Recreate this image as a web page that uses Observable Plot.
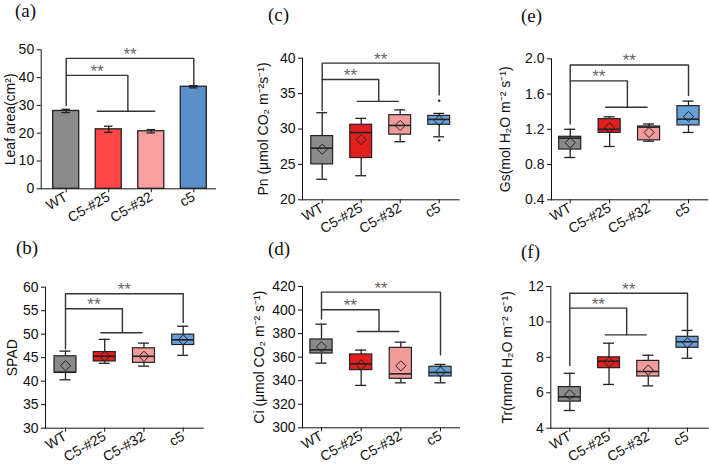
<!DOCTYPE html>
<html>
<head>
<meta charset="utf-8">
<script src="https://cdn.jsdelivr.net/npm/d3@7"></script>
<script src="https://cdn.jsdelivr.net/npm/@observablehq/plot@0.6"></script>
<style>
  body { margin: 0; background: #fff; }
  #chart { position: relative; width: 709px; height: 469px; overflow: hidden; background: #fff; }
  .panel { position: absolute; }
  .panel svg { overflow: visible; }
  .tag { position: absolute; font-family: "Liberation Serif", "Times New Roman", serif; font-size: 19px; color: #111; line-height: 1; }
</style>
</head>
<body>
<div id="chart"></div>
<script>
// Lines compared in every panel
const categories = ["WT", "C5-#25", "C5-#32", "c5"];

// (a) leaf area (cm²): mean and error
const leafArea = [28.0, 21.4, 20.7, 36.7];
const leafAreaErr = [0.6, 1.1, 0.6, 0.4];

// Box summaries per line: [lower whisker, Q1, median, Q3, upper whisker]
const spadBox = [[40.3, 41.8, 41.9, 45.3, 46.4], [43.8, 44.2, 45.3, 46.2, 48.9], [43.2, 43.9, 45.3, 47.0, 48.1], [45.5, 47.7, 48.8, 49.9, 51.7]];
const spadMean = [43.3, 45.3, 45.3, 48.8];

const pnBox = [[22.9, 25.0, 27.3, 29.0, 32.3], [23.4, 25.9, 29.5, 30.6, 31.5], [28.2, 29.2, 30.5, 31.95, 32.7], [28.9, 30.6, 31.35, 31.85, 32.2]];
const pnMean = [27.15, 28.5, 30.5, 31.2];
const pnOutliers = [[3, 34.0], [3, 28.4]];

const ciBox = [[354.9, 363.1, 366.2, 375.0, 388.0], [336.0, 349.0, 354.3, 362.3, 366.0], [338.2, 341.6, 345.8, 367.9, 372.7], [338.2, 343.6, 347.0, 351.8, 353.8]];
const ciMean = [368.8, 353.5, 352.6, 347.5];

const gsBox = [[0.88, 0.97, 1.10, 1.115, 1.20], [1.005, 1.16, 1.20, 1.315, 1.342], [1.065, 1.075, 1.225, 1.232, 1.26], [1.164, 1.244, 1.315, 1.463, 1.52]];
const gsMean = [1.047, 1.217, 1.164, 1.345];

const trBox = [[5.0, 5.5, 5.77, 6.32, 7.1], [6.47, 7.39, 7.78, 8.0, 8.8], [6.39, 6.92, 7.2, 7.8, 8.12], [7.95, 8.54, 8.88, 9.16, 9.52]];
const trMean = [5.9, 7.73, 7.28, 8.82];

// Significance brackets: [outer top, WT leg end, c5 leg end, inner top, inner leg end]
const leafAreaSig = [46.9, 30.0, 37.3, 40.8, 27.9];
const spadSig = [58.6, 46.9, 52.5, 55.4, 50.3];
const pnSig = [39.3, 32.6, 34.8, 37.0, 33.9];
const ciSig = [415.2, 392.5, 362.0, 400.2, 381.8];
const gsSig = [1.93, 1.26, 1.584, 1.75, 1.45];
const trSig = [11.62, 7.54, 9.37, 10.78, 9.27];
// x (category index) of the inner bracket drop and of the bar under it
const innerDropX = 1.45;
const leafAreaSpanX = [0.73, 2.08];
const boxSpanX = [0.9, 1.95];

const barColors = ["#8a8a8a", "#ff4646", "#f6a0a0", "#5b8fcb"];
const boxColors = ["#8a8a8a", "#e31e1e", "#f29b9b", "#6a9fd8"];
const ink = "#222";

const BOX_HALF = 0.28, CAP_HALF = 0.14, BAR_HALF = 0.306, ERR_CAP = 0.1;

function boxMarks(box, mean, outliers = []) {
  const rows = categories.map((c, i) => ({
    i, lo: box[i][0], q1: box[i][1], med: box[i][2], q3: box[i][3], hi: box[i][4], mean: mean[i], fill: boxColors[i]
  }));
  const outs = outliers.map(([i, v]) => ({i, v}));
  return [
    Plot.ruleX(rows, {x: "i", y1: "lo", y2: "q1", stroke: ink, strokeWidth: 1.3}),
    Plot.ruleX(rows, {x: "i", y1: "q3", y2: "hi", stroke: ink, strokeWidth: 1.3}),
    Plot.ruleY(rows, {y: "lo", x1: d => d.i - CAP_HALF, x2: d => d.i + CAP_HALF, stroke: ink, strokeWidth: 1.3}),
    Plot.ruleY(rows, {y: "hi", x1: d => d.i - CAP_HALF, x2: d => d.i + CAP_HALF, stroke: ink, strokeWidth: 1.3}),
    Plot.rect(rows, {x1: d => d.i - BOX_HALF, x2: d => d.i + BOX_HALF, y1: "q1", y2: "q3", fill: "fill", stroke: ink, strokeWidth: 1.2}),
    Plot.ruleY(rows, {y: "med", x1: d => d.i - BOX_HALF, x2: d => d.i + BOX_HALF, stroke: ink, strokeWidth: 1.6}),
    Plot.dot(rows, {x: "i", y: "mean", symbol: "diamond2", r: 4.6, stroke: ink, strokeWidth: 1, fill: "none"}),
    Plot.dot(outs, {x: "i", y: "v", r: 1.2, fill: ink, stroke: null})
  ];
}

function barMarks(values, errs) {
  const rows = categories.map((c, i) => ({i, v: values[i], e: errs[i], fill: barColors[i]}));
  return [
    Plot.rectY(rows, {x1: d => d.i - BAR_HALF, x2: d => d.i + BAR_HALF, y: "v", fill: "fill", stroke: ink, strokeWidth: 1.3}),
    Plot.ruleX(rows, {x: "i", y1: d => d.v - d.e, y2: d => d.v + d.e, stroke: ink, strokeWidth: 1.3}),
    Plot.ruleY(rows, {y: d => d.v - d.e, x1: d => d.i - ERR_CAP, x2: d => d.i + ERR_CAP, stroke: ink, strokeWidth: 1.3}),
    Plot.ruleY(rows, {y: d => d.v + d.e, x1: d => d.i - ERR_CAP, x2: d => d.i + ERR_CAP, stroke: ink, strokeWidth: 1.3})
  ];
}

function sigMarks(sig, spanX) {
  const [top, wtLeg, c5Leg, inner, innerLeg] = sig;
  const pts = [
    {g: 0, x: 0, y: wtLeg}, {g: 0, x: 0, y: top}, {g: 0, x: 3, y: top}, {g: 0, x: 3, y: c5Leg},
    {g: 1, x: 0, y: inner}, {g: 1, x: innerDropX, y: inner}, {g: 1, x: innerDropX, y: innerLeg},
    {g: 2, x: spanX[0], y: innerLeg}, {g: 2, x: spanX[1], y: innerLeg}
  ];
  const stars = [{x: 1.5, y: top}, {x: innerDropX / 2, y: inner}];
  return [
    Plot.line(pts, {x: "x", y: "y", z: "g", stroke: "#333", strokeWidth: 1.4, curve: "linear"}),
    Plot.text(stars, {x: "x", y: "y", text: () => "**", dy: -4, fill: "#666", fontSize: 17, lineAnchor: "middle"})
  ];
}

function panel(host, cfg) {
  const {left, top, width, height, axisL, axisR, firstX, lastX, yTopPx, yBotPx, yDomain, yTicks, yFormat, yLabel, labelGap, marks} = cfg;
  const step = (lastX - firstX) / 3;
  const chart = Plot.plot({
    width, height,
    marginLeft: axisL - left,
    marginRight: left + width - axisR,
    marginTop: yTopPx - top,
    marginBottom: top + height - yBotPx,
    style: {fontFamily: "'Liberation Sans', Arial, sans-serif", fontSize: "14px", color: "#111", background: "transparent", overflow: "visible"},
    color: {type: "identity"},
    x: {domain: [(axisL - firstX) / step, (axisR - firstX) / step], ticks: [0, 1, 2, 3], tickFormat: i => categories[i],
        tickRotate: -30, tickSize: 4, tickPadding: 3, line: true, label: null},
    y: {domain: yDomain, ticks: yTicks, tickFormat: yFormat, tickSize: 4, tickPadding: 3, line: true, label: null},
    marks: [
      ...marks,
      Plot.text([yLabel], {text: d => d, frameAnchor: "left", textAnchor: "middle", lineAnchor: "middle", rotate: -90, dx: -labelGap, fontSize: 14, fill: "#111"})
    ]
  });
  const wrap = document.createElement("div");
  wrap.className = "panel";
  wrap.style.left = left + "px";
  wrap.style.top = top + "px";
  wrap.appendChild(chart);
  host.appendChild(wrap);
}

function tag(host, text, x, y) {
  const el = document.createElement("div");
  el.className = "tag";
  el.textContent = text;
  el.style.left = x + "px";
  el.style.top = y + "px";
  host.appendChild(el);
}

const host = document.getElementById("chart");
const row1 = {top: 30, height: 205}, row2 = {top: 262, height: 207};

panel(host, {left: 0, width: 236, ...row1, axisL: 40.7, axisR: 215, firstX: 65.7, lastX: 193.3, yTopPx: 49.3, yBotPx: 188.3,
  yDomain: [0, 50], yTicks: [0, 10, 20, 30, 40, 50], yLabel: "Leaf area(cm²)", labelGap: 31,
  marks: [...barMarks(leafArea, leafAreaErr), ...sigMarks(leafAreaSig, leafAreaSpanX)]});

panel(host, {left: 236, width: 236, ...row1, axisL: 302, axisR: 458.7, firstX: 321.7, lastX: 438.7, yTopPx: 57.7, yBotPx: 199.3,
  yDomain: [20, 40], yTicks: [20, 25, 30, 35, 40], yLabel: "Pn (μmol CO₂ m⁻²s⁻¹)", labelGap: 39,
  marks: [...boxMarks(pnBox, pnMean, pnOutliers), ...sigMarks(pnSig, boxSpanX)]});

panel(host, {left: 472, width: 237, ...row1, axisL: 551, axisR: 707, firstX: 569.7, lastX: 688, yTopPx: 58.3, yBotPx: 199.3,
  yDomain: [0.4, 2.0], yTicks: [0.4, 0.8, 1.2, 1.6, 2.0], yFormat: d3.format(".1f"), yLabel: "Gs(mol H₂O m⁻² s⁻¹)", labelGap: 46,
  marks: [...boxMarks(gsBox, gsMean), ...sigMarks(gsSig, boxSpanX)]});

panel(host, {left: 0, width: 236, ...row2, axisL: 45, axisR: 202.7, firstX: 65, lastX: 182.7, yTopPx: 286.7, yBotPx: 427.7,
  yDomain: [30, 60], yTicks: [30, 35, 40, 45, 50, 55, 60], yLabel: "SPAD", labelGap: 33,
  marks: [...boxMarks(spadBox, spadMean), ...sigMarks(spadSig, boxSpanX)]});

panel(host, {left: 236, width: 236, ...row2, axisL: 302, axisR: 459, firstX: 321, lastX: 440, yTopPx: 286, yBotPx: 427.3,
  yDomain: [300, 420], yTicks: [300, 320, 340, 360, 380, 400, 420], yLabel: "Ci (μmol CO₂ m⁻² s⁻¹)", labelGap: 43,
  marks: [...boxMarks(ciBox, ciMean), ...sigMarks(ciSig, boxSpanX)]});

panel(host, {left: 472, width: 237, ...row2, axisL: 550.3, axisR: 707.7, firstX: 569.3, lastX: 687, yTopPx: 286, yBotPx: 427.7,
  yDomain: [4, 12], yTicks: [4, 6, 8, 10, 12], yLabel: "Tr(mmol H₂O m⁻² s⁻¹)", labelGap: 43,
  marks: [...boxMarks(trBox, trMean), ...sigMarks(trSig, boxSpanX)]});

tag(host, "(a)", 15, 1);
tag(host, "(c)", 268, 5);
tag(host, "(e)", 521, 6);
tag(host, "(b)", 16, 238);
tag(host, "(d)", 268, 239);
tag(host, "(f)", 521, 242);
</script>
</body>
</html>
